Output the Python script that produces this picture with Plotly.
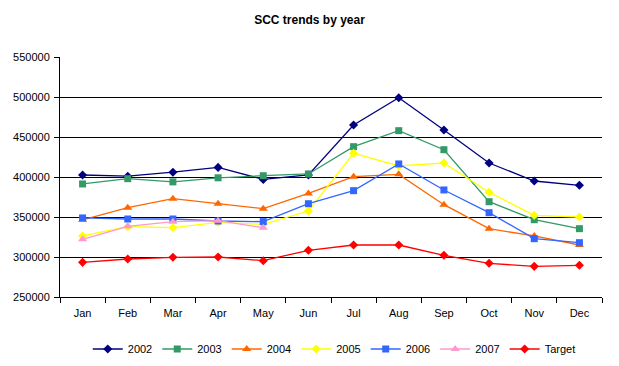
import plotly.graph_objects as go

months = ["Jan", "Feb", "Mar", "Apr", "May", "Jun", "Jul", "Aug", "Sep", "Oct", "Nov", "Dec"]

y2002 = [402500, 401000, 406000, 412000, 397000, 402500, 465000, 499000, 458800, 417500, 395000, 389600]
y2003 = [391300, 397900, 393900, 399000, 401600, 403800, 437900, 457900, 434100, 369100, 346600, 335400]
y2004 = [346500, 361600, 372900, 366600, 360400, 379400, 400400, 403300, 365400, 335400, 326300, 315000]
y2005 = [326300, 337900, 336600, 343300, 340800, 357500, 429600, 413800, 417500, 380900, 352100, 350000]
y2006 = [348800, 347500, 347500, 345000, 344200, 366600, 382900, 416300, 383800, 355400, 322900, 317900]
y2007 = [322100, 338400, 344200, 345400, 336600, None, None, None, None, None, None, None]
target = [293300, 297500, 299600, 300000, 295400, 308400, 315000, 315000, 302100, 292100, 288300, 289600]

series = [
    ("2002", y2002, "#000080", "diamond", 7),
    ("2003", y2003, "#339966", "square", 7),
    ("2004", y2004, "#FF6600", "triangle-up", 8),
    ("2005", y2005, "#FFFF00", "diamond", 7),
    ("2006", y2006, "#3366FF", "square", 7),
    ("2007", y2007, "#FF99CC", "triangle-up", 8),
    ("Target", target, "#FF0000", "diamond", 7),
]

fig = go.Figure()
for name, vals, color, sym, sz in series:
    fig.add_trace(go.Scatter(
        x=months, y=vals, name=name, mode="lines+markers",
        line=dict(color=color, width=1.3),
        marker=dict(color=color, symbol=sym, size=sz, line=dict(width=0)),
        connectgaps=False,
    ))

fig.update_layout(
    width=619, height=366,
    margin=dict(l=60, r=17, t=57, b=69),
    paper_bgcolor="white", plot_bgcolor="white",
    font=dict(family="Liberation Sans, Arial, sans-serif", size=11, color="black"),
    title=dict(text="<b>SCC trends by year</b>", x=0.5, xref="container", xanchor="center",
               y=1 - 20 / 366, yref="container", yanchor="middle",
               font=dict(size=12, family="Liberation Sans, Arial, sans-serif")),
    showlegend=True,
    legend=dict(orientation="h", x=0.54, xref="container", xanchor="center",
                y=1 - 349 / 366, yref="container", yanchor="middle",
                font=dict(size=11), itemwidth=30, tracegroupgap=0),
    xaxis=dict(
        type="category", range=[-0.5, 11.5], showgrid=False,
        showline=True, linecolor="black", linewidth=1,
        ticks="outside", tickson="boundaries", ticklen=5, tickcolor="black",
        tickfont=dict(size=11), fixedrange=True, ticklabelstandoff=6,
    ),
    yaxis=dict(
        range=[250000, 550000], dtick=50000, tickformat="d",
        showgrid=True, gridcolor="black", gridwidth=1,
        showline=True, linecolor="black", linewidth=1,
        ticks="outside", ticklen=5, tickcolor="black",
        tickfont=dict(size=11), zeroline=False, ticklabelstandoff=2,
    ),
)

fig.write_html("out.html", config={"displayModeBar": False},
               post_script="document.body.style.margin='0';document.body.style.padding='0';")
